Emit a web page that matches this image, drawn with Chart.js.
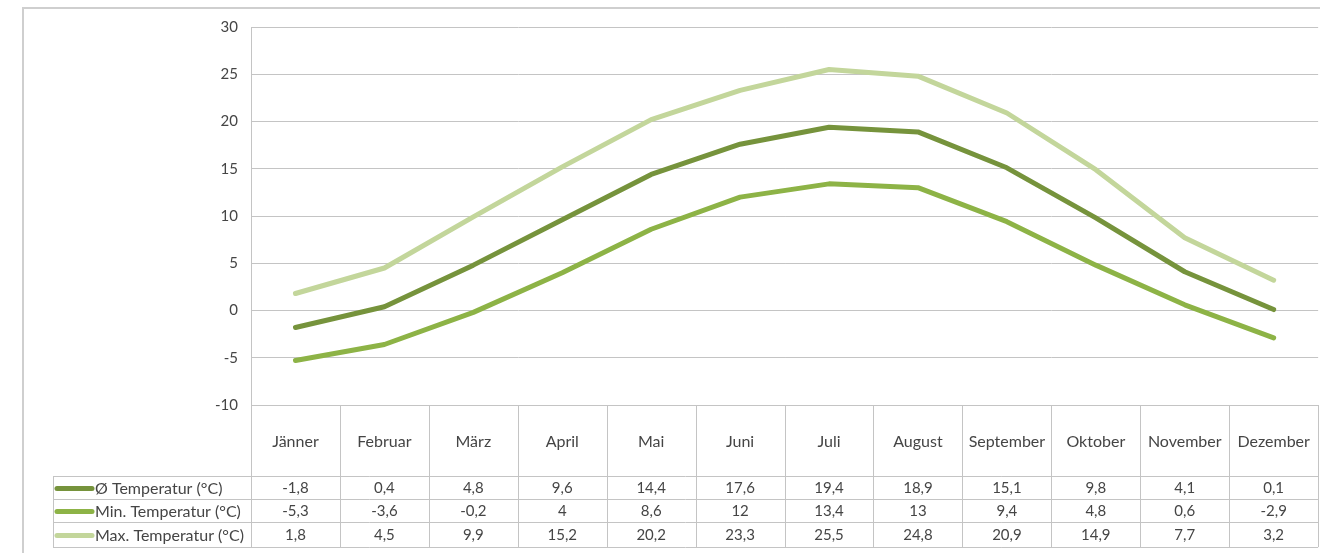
<!DOCTYPE html>
<html lang="de">
<head>
<meta charset="utf-8">
<title>Klimatabelle</title>
<script src="https://cdn.jsdelivr.net/npm/chart.js@4/dist/chart.umd.min.js"></script>
<style>
    html, body { margin: 0; padding: 0; background: #fff; overflow: hidden; }
    canvas { display: block; }
</style>
</head>
<body>
<canvas id="klima-chart" width="1337" height="553"></canvas>
<script>
// Monatswerte
const months = ['Jänner', 'Februar', 'März', 'April', 'Mai', 'Juni', 'Juli', 'August', 'September', 'Oktober', 'November', 'Dezember'];
const avgTemp = [-1.8, 0.4, 4.8, 9.6, 14.4, 17.6, 19.4, 18.9, 15.1, 9.8, 4.1, 0.1];
const minTemp = [-5.3, -3.6, -0.2, 4, 8.6, 12, 13.4, 13, 9.4, 4.8, 0.6, -2.9];
const maxTemp = [1.8, 4.5, 9.9, 15.2, 20.2, 23.3, 25.5, 24.8, 20.9, 14.9, 7.7, 3.2];
const seriesNames = ['Ø Temperatur (°C)', 'Min. Temperatur (°C)', 'Max. Temperatur (°C)'];

const FONT = 'Lato, "DejaVu Sans", sans-serif';
const GRID = '#c4c4c4';
const TEXT = '#454545';
const COLORS = ['#76933c', '#8db346', '#c3d69b'];

// Tabellen-Zeilen unterhalb der Achse
const ROW_LINES = [476, 499, 522, 547];
const LEGEND_LEFT = 53;

function fmt(v) {
    return String(v).replace('.', ',');
}

// Rahmen und Datentabelle
const dataTablePlugin = {
    id: 'dataTable',
    beforeDraw(chart) {
        const ctx = chart.ctx;
        ctx.save();
        ctx.strokeStyle = '#cfcfcf';
        ctx.lineWidth = 2;
        ctx.beginPath();
        ctx.moveTo(23, 560);
        ctx.lineTo(23, 8);
        ctx.lineTo(1340, 8);
        ctx.stroke();
        ctx.restore();
    },
    afterDraw(chart) {
        const ctx = chart.ctx;
        const x = chart.scales.x;
        const area = chart.chartArea;
        const step = (area.right - area.left) / months.length;
        const rows = [avgTemp, minTemp, maxTemp];

        ctx.save();
        ctx.strokeStyle = GRID;
        ctx.lineWidth = 1;
        ctx.beginPath();
        // senkrechte Trennlinien
        for (let i = 0; i <= months.length; i++) {
            const px = Math.round(area.left + i * step) + 0.5;
            ctx.moveTo(px, area.bottom);
            ctx.lineTo(px, ROW_LINES[ROW_LINES.length - 1]);
        }
        ctx.moveTo(LEGEND_LEFT + 0.5, ROW_LINES[0]);
        ctx.lineTo(LEGEND_LEFT + 0.5, ROW_LINES[ROW_LINES.length - 1]);
        // waagrechte Zeilenlinien
        ROW_LINES.forEach(y => {
            ctx.moveTo(LEGEND_LEFT, y + 0.5);
            ctx.lineTo(area.right, y + 0.5);
        });
        ctx.stroke();

        ctx.fillStyle = TEXT;
        ctx.textBaseline = 'middle';
        rows.forEach((values, r) => {
            const cy = (ROW_LINES[r] + ROW_LINES[r + 1]) / 2 + 1;

            // Legendenlinie
            ctx.strokeStyle = COLORS[r];
            ctx.lineWidth = 5;
            ctx.lineCap = 'round';
            ctx.beginPath();
            ctx.moveTo(57, cy);
            ctx.lineTo(92, cy);
            ctx.stroke();

            ctx.font = '16px ' + FONT;
            ctx.textAlign = 'left';
            ctx.fillText(seriesNames[r], 95, cy);

            ctx.font = '15px ' + FONT;
            ctx.textAlign = 'center';
            values.forEach((v, i) => {
                ctx.fillText(fmt(v), x.getPixelForValue(i), cy);
            });
        });
        ctx.restore();
    }
};

function makeDataset(label, data, color) {
    return {
        label: label,
        data: data,
        borderColor: color,
        backgroundColor: color,
        borderWidth: 5,
        pointRadius: 0,
        tension: 0,
        borderCapStyle: 'round',
        borderJoinStyle: 'round'
    };
}

const ctx = document.getElementById('klima-chart');
new Chart(ctx, {
    type: 'line',
    data: {
        labels: months,
        datasets: [
            makeDataset(seriesNames[0], avgTemp, COLORS[0]),
            makeDataset(seriesNames[1], minTemp, COLORS[1]),
            makeDataset(seriesNames[2], maxTemp, COLORS[2])
        ]
    },
    options: {
        responsive: false,
        animation: false,
        layout: {
            padding: { top: 27, right: 3, left: 0, bottom: 0 }
        },
        plugins: {
            legend: { display: false },
            tooltip: { enabled: false }
        },
        scales: {
            x: {
                offset: true,
                grid: { display: false, drawTicks: false },
                border: { display: false },
                ticks: {
                    padding: 27,
                    color: TEXT,
                    font: { family: FONT, size: 16 },
                    maxRotation: 0,
                    autoSkip: false
                },
                afterFit(scale) {
                    scale.height = 148;
                }
            },
            y: {
                min: -10,
                max: 30,
                ticks: {
                    stepSize: 5,
                    padding: 13,
                    color: TEXT,
                    font: { family: FONT, size: 15 }
                },
                grid: { color: GRID, lineWidth: 1, drawTicks: false },
                border: { color: GRID, width: 1 },
                afterFit(scale) {
                    scale.width = 251;
                }
            }
        }
    },
    plugins: [dataTablePlugin]
});
</script>
</body>
</html>
